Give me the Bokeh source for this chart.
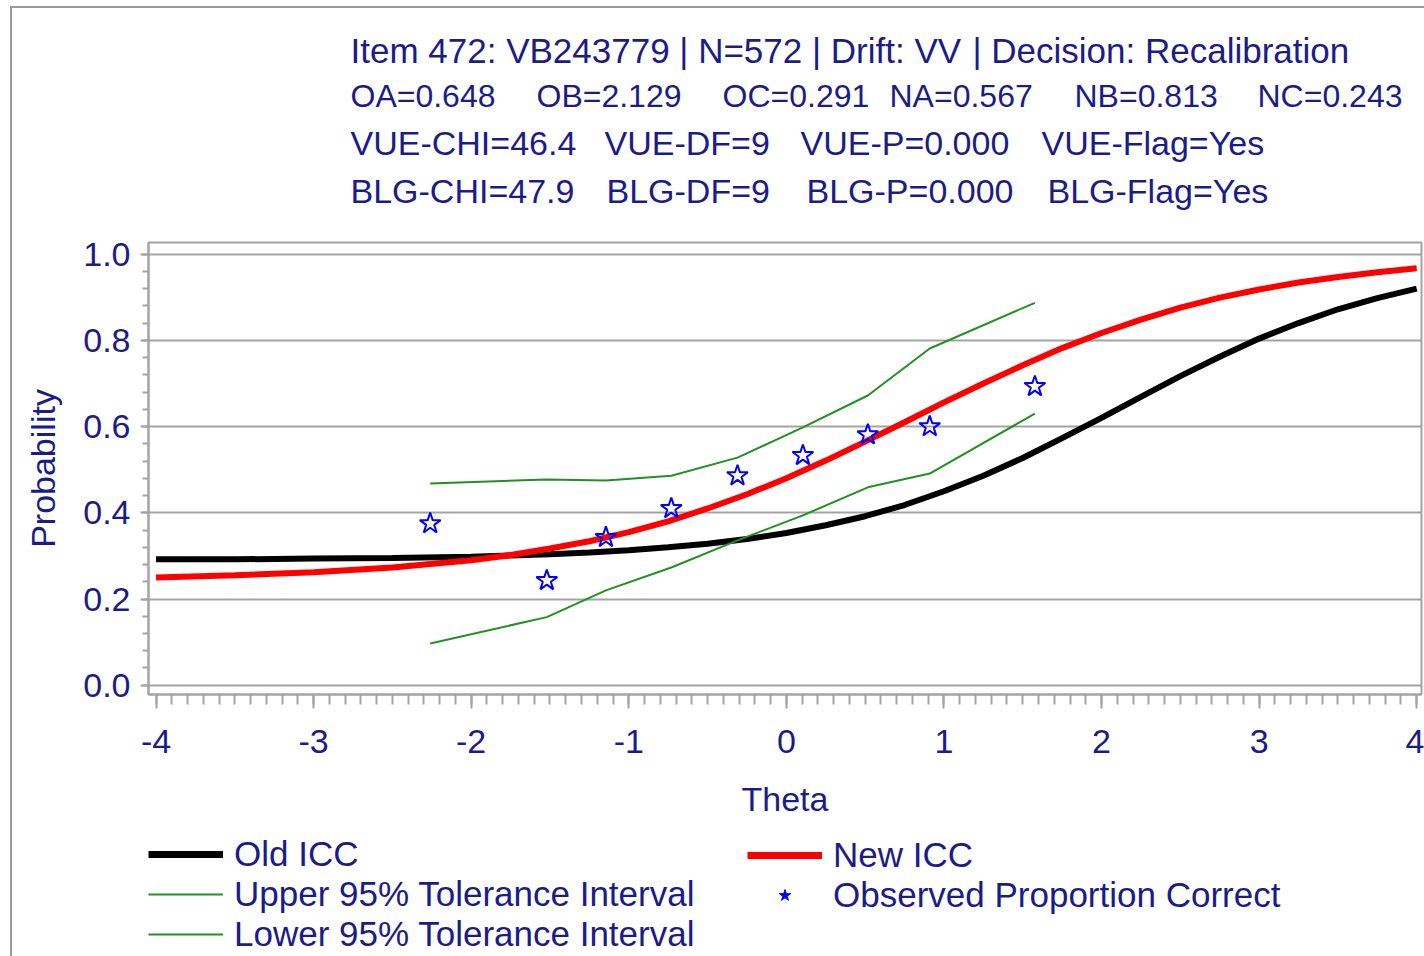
from bokeh.plotting import figure
from bokeh.layouts import column
from bokeh.models import (Label, Legend, LegendItem, SingleIntervalTicker,
                          NumeralTickFormatter, Range1d)
from bokeh.embed import file_html
from bokeh.resources import INLINE

# ---------------- data ----------------
theta_grid = [-4.0, -3.5, -3.0, -2.5, -2.0, -1.75, -1.5, -1.25, -1.0, -0.75, -0.5,
              -0.25, 0.0, 0.25, 0.5, 0.75, 1.0, 1.25, 1.5, 1.75, 2.0, 2.25, 2.5,
              2.75, 3.0, 3.25, 3.5, 3.75, 4.0]
old_icc = [0.292, 0.292, 0.294, 0.295, 0.298, 0.301, 0.304, 0.308, 0.313, 0.320, 0.328,
           0.339, 0.353, 0.371, 0.392, 0.418, 0.450, 0.486, 0.527, 0.573, 0.620, 0.669,
           0.717, 0.762, 0.804, 0.840, 0.872, 0.898, 0.920]
new_icc = [0.250, 0.255, 0.262, 0.273, 0.290, 0.302, 0.317, 0.334, 0.355, 0.380, 0.410,
           0.443, 0.480, 0.521, 0.565, 0.610, 0.656, 0.700, 0.742, 0.782, 0.817, 0.848,
           0.876, 0.899, 0.918, 0.934, 0.947, 0.958, 0.967]

obs_theta = [-2.26, -1.52, -1.145, -0.73, -0.31, 0.105, 0.517, 0.91, 1.577]
obs_prop = [0.375, 0.243, 0.343, 0.410, 0.486, 0.533, 0.581, 0.600, 0.693]
upper_ti = [0.468, 0.477, 0.475, 0.486, 0.528, 0.598, 0.672, 0.781, 0.887]
lower_ti = [0.097, 0.158, 0.220, 0.273, 0.336, 0.394, 0.459, 0.491, 0.630]

x_tick_values = [-4, -3, -2, -1, 0, 1, 2, 3, 4]
x_tick_labels = ["-4", "-3", "-2", "-1", "0", "1", "2", "3", "4"]

header_line1 = ["Item 472: VB243779 | N=572 | Drift: VV", "| Decision: Recalibration"]
header_line2 = ["OA=0.648", "OB=2.129", "OC=0.291", "NA=0.567", "NB=0.813", "NC=0.243"]
header_line3 = ["VUE-CHI=46.4", "VUE-DF=9", "VUE-P=0.000", "VUE-Flag=Yes"]
header_line4 = ["BLG-CHI=47.9", "BLG-DF=9", "BLG-P=0.000", "BLG-Flag=Yes"]

legend_labels = ["Old ICC", "Upper 95% Tolerance Interval", "Lower 95% Tolerance Interval",
                 "New ICC", "Observed Proportion Correct"]

# ---------------- layout constants (page pixels) ----------------
OX, OY = 12, 8                 # content origin inside the outer gray border
CW = 1424 - OX                 # content width
HEAD_H = 215                   # header strip height
MAIN_H = 601                   # main plot height
LEG_H = 956 - OY - HEAD_H - MAIN_H
FL, FT, FR, FB = 148, 242, 1421, 694   # plot frame in page pixels
BL, BR = FL - OX, OX + CW - FR         # left / right borders shared by all strips
BASE_FIX = 13                          # text baseline correction

NAVY = "#1c1c88"
GRAY = "#a3a3a3"
GREEN = "#229022"
FONT = "Liberation Sans"
NAN = float("nan")


def strip(height, page_top):
    f = figure(width=CW, height=height, output_backend="svg", toolbar_location=None,
               x_range=Range1d(FL, FR), y_range=Range1d(page_top + height, page_top),
               x_axis_location=None, y_axis_location=None,
               min_border_left=BL, min_border_right=BR,
               min_border_top=0, min_border_bottom=0,
               background_fill_color="white", border_fill_color="white")
    f.outline_line_color = None
    f.grid.visible = False
    return f


# ---------------- header strip ----------------
head = strip(HEAD_H, OY)


def header(texts, xs_px, base_py, size):
    for t, xp in zip(texts, xs_px):
        head.add_layout(Label(x=xp, y=base_py - BASE_FIX, text=t, text_color=NAVY,
                              text_font=FONT, text_font_size=size,
                              text_align="left", text_baseline="alphabetic"))


header(header_line1, [350, 972], 63, "35px")
header(header_line2, [350, 536, 722, 889, 1074, 1257], 108.5, "32px")
header(header_line3, [350, 604, 800, 1041], 155.5, "34px")
header(header_line4, [350, 606, 806, 1047], 203, "34px")

# ---------------- main plot ----------------
top0 = OY + HEAD_H
p = figure(width=CW, height=MAIN_H, output_backend="svg", toolbar_location=None,
           x_range=Range1d(-4.0476, 4.0305), y_range=Range1d(-0.0215, 1.0269),
           min_border_left=BL, min_border_right=BR,
           min_border_top=FT - top0, min_border_bottom=top0 + MAIN_H - FB,
           background_fill_color="white", border_fill_color="white")
p.outline_line_color = GRAY
p.outline_line_width = 2
p.xgrid.visible = False
p.ygrid.grid_line_color = GRAY
p.ygrid.grid_line_width = 2

xa = p.xaxis[0]
xa.ticker = SingleIntervalTicker(interval=1, num_minor_ticks=10)
xa.major_label_overrides = dict(zip(x_tick_values, x_tick_labels))
xa.axis_label = "Theta"
ya = p.yaxis[0]
ya.ticker = SingleIntervalTicker(interval=0.2, num_minor_ticks=5)
ya.formatter = NumeralTickFormatter(format="0.0")
ya.axis_label = "Probability"
for ax in (xa, ya):
    ax.axis_line_color = GRAY
    ax.axis_line_width = 2
    ax.major_tick_line_color = GRAY
    ax.major_tick_line_width = 2
    ax.minor_tick_line_color = GRAY
    ax.minor_tick_line_width = 2
    ax.major_tick_in = 0
    ax.minor_tick_in = 0
    ax.major_label_text_color = NAVY
    ax.major_label_text_font = FONT
    ax.major_label_text_font_size = "34px"
    ax.axis_label_text_color = NAVY
    ax.axis_label_text_font = FONT
    ax.axis_label_text_font_size = "34px"
    ax.axis_label_text_font_style = "normal"
xa.major_tick_out = 14
xa.minor_tick_out = 10
xa.major_label_standoff = 21
xa.axis_label_standoff = 24
ya.major_tick_out = 8
ya.minor_tick_out = 6
ya.major_label_standoff = 10
ya.axis_label_standoff = 18

p.line(theta_grid, old_icc, line_color="black", line_width=6)
p.line(theta_grid, new_icc, line_color="red", line_width=6)
p.line(obs_theta, upper_ti, line_color=GREEN, line_width=2)
p.line(obs_theta, lower_ti, line_color=GREEN, line_width=2)
p.scatter(obs_theta, obs_prop, marker="star", size=22, line_color="blue",
          line_width=2, fill_alpha=0)

# ---------------- legend strip ----------------
leg_top = OY + HEAD_H + MAIN_H
leg = strip(LEG_H, leg_top)
# legend proxies (a single undefined point each, never visible)
k_old = leg.line([NAN], [NAN], line_color="black", line_width=7)
k_up = leg.line([NAN], [NAN], line_color=GREEN, line_width=2)
k_lo = leg.line([NAN], [NAN], line_color=GREEN, line_width=2)
k_new = leg.line([NAN], [NAN], line_color="red", line_width=7)
k_obs = leg.scatter([NAN], [NAN], marker="star", line_color="blue", fill_color="blue",
                    line_width=1)


def make_legend(items, loc):
    lg = Legend(items=items, location=loc, orientation="vertical")
    lg.border_line_alpha = 0
    lg.background_fill_alpha = 0
    lg.padding = 0
    lg.margin = 0
    lg.spacing = 0
    lg.glyph_width = 75
    lg.glyph_height = 30
    lg.label_standoff = 11
    lg.label_text_font = FONT
    lg.label_text_font_size = "35px"
    lg.label_text_color = NAVY
    return lg


leg.add_layout(make_legend([LegendItem(label=legend_labels[0], renderers=[k_old]),
                            LegendItem(label=legend_labels[1], renderers=[k_up]),
                            LegendItem(label=legend_labels[2], renderers=[k_lo])],
                           (0, 2)))
leg.add_layout(make_legend([LegendItem(label=legend_labels[3], renderers=[k_new]),
                            LegendItem(label=legend_labels[4], renderers=[k_obs])],
                           (747 - FL, 41)))

page = column(head, p, leg, spacing=0,
              styles={"margin-left": "10px", "margin-top": "6px",
                      "border-left": "2px solid #9a9a9a",
                      "border-top": "2px solid #9a9a9a"})

open("out.html", "w").write(file_html(page, INLINE))
